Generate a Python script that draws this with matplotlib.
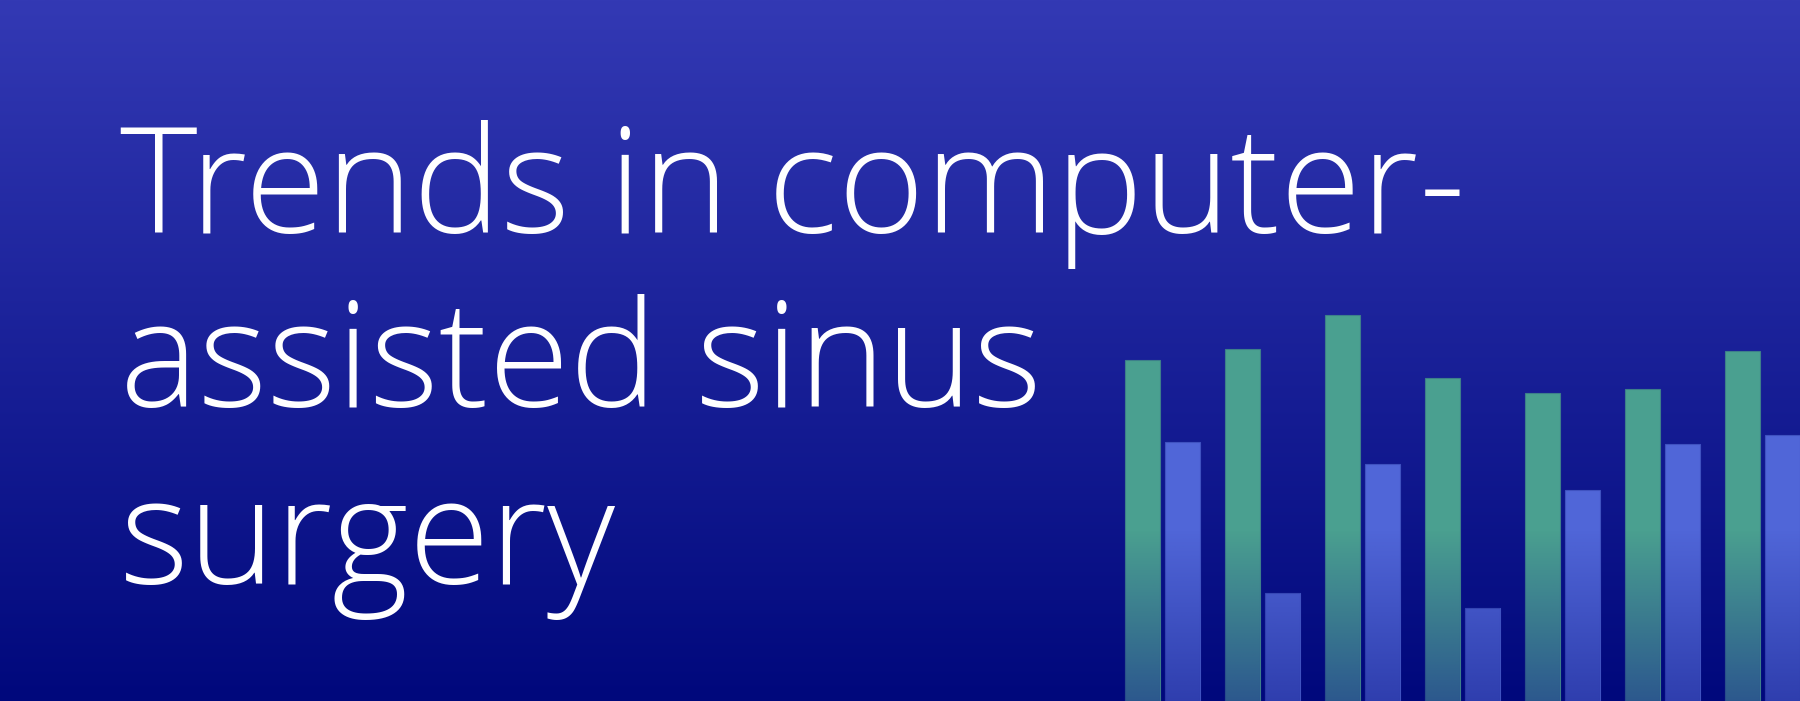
import numpy as np
import matplotlib
matplotlib.use("Agg")
import matplotlib.pyplot as plt
from matplotlib.colors import to_rgb

# ------------------ dades -----------------
title_lines = ["Trends in computer-", "assisted sinus", "surgery"]
groups = ["1", "2", "3", "4", "5", "6", "7"]
green_vals = [341, 352, 386, 323, 308, 312, 350]
blue_vals = [259, 108, 237, 93, 211, 257, 266]

bg_top = "#3339b4"
bg_bottom = "#00087c"
green = "#4aa090"
blue = "#5066d8"
shade = "#141e8c"

W, H = 1800, 701
fig = plt.figure(figsize=(W / 100, H / 100), dpi=100)

# fons amb degradat
bg = fig.add_axes([0, 0, 1, 1])
t = np.linspace(0, 1, 256)[:, None]
c0, c1 = np.array(to_rgb(bg_top)), np.array(to_rgb(bg_bottom))
grad = c0 * (1 - t[..., None]) + c1 * t[..., None]
grad = np.repeat(grad, 2, axis=1)
bg.imshow(grad, aspect="auto", extent=[0, 1, 0, 1], origin="upper")
bg.set_xlim(0, 1)
bg.set_ylim(0, 1)
bg.axis("off")

# barres
ax = fig.add_axes([1100 / W, 0, 700 / W, 1])
ax.axis("off")
ax.patch.set_alpha(0)

x = np.arange(len(groups))
bars_g = ax.bar(x, green_vals, width=0.35, align="edge", color=green,
                edgecolor="#3d7f8a", linewidth=0.8)
bars_b = ax.bar(x + 0.40, blue_vals, width=0.35, align="edge", color=blue,
                edgecolor="#3f52c0", linewidth=0.8)

# ombra degradada a la part baixa de cada barra
sc = np.array(to_rgb(shade))
ys = np.linspace(H, 0, 256)
alpha = np.clip((171 - ys) / 171, 0, 1) * 0.55
over = np.zeros((256, 2, 4))
over[..., :3] = sc
over[..., 3] = alpha[:, None]
for b in list(bars_g) + list(bars_b):
    im = ax.imshow(over, aspect="auto", origin="upper",
                   extent=[b.get_x(), b.get_x() + b.get_width(), 0, H], zorder=3)
    im.set_clip_path(b)
ax.set_xlim(-0.246, 6.754)
ax.set_ylim(0, H)

# títol
baselines = [233, 407, 584]
for line, yb in zip(title_lines, baselines):
    fig.text(120 / W, 1 - yb / H, line, color="white", fontsize=106.5,
             family="Open Sans", fontweight="light", va="baseline", ha="left")

fig.savefig("out.png", dpi=100)
